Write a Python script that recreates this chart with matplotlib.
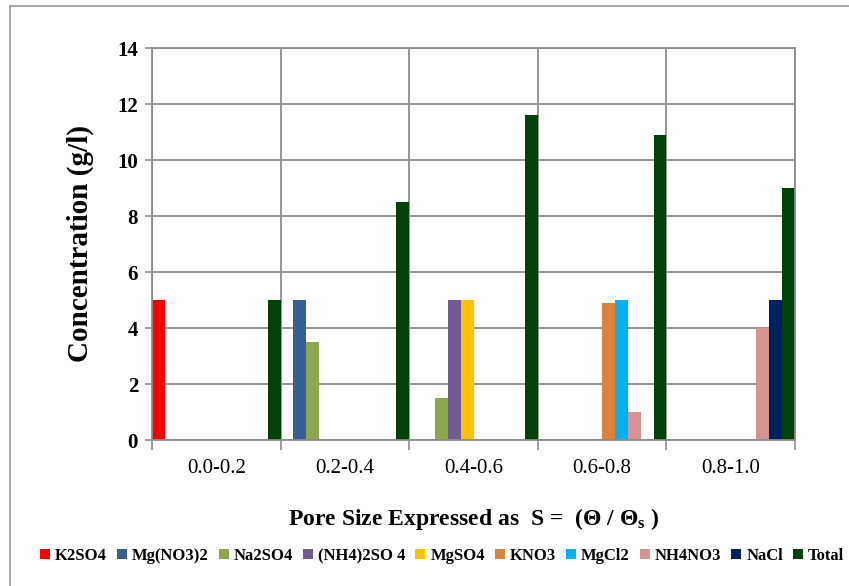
import numpy as np
import matplotlib
matplotlib.use('Agg')
import matplotlib.pyplot as plt
from matplotlib.patches import Rectangle

plt.rcParams['font.family'] = ['Liberation Serif', 'DejaVu Serif']
plt.rcParams['mathtext.fontset'] = 'custom'
plt.rcParams['mathtext.rm'] = 'Liberation Serif:bold'
plt.rcParams['mathtext.bf'] = 'Liberation Serif:bold'
plt.rcParams['mathtext.it'] = 'Liberation Serif:bold'

# data
categories = ['0.0-0.2', '0.2-0.4', '0.4-0.6', '0.6-0.8', '0.8-1.0']
series_names = ['K2SO4', 'Mg(NO3)2', 'Na2SO4', '(NH4)2SO 4', 'MgSO4',
                'KNO3', 'MgCl2', 'NH4NO3', 'NaCl', 'Total']
k2so4 = [5, 0, 0, 0, 0]
mgno32 = [0, 5, 0, 0, 0]
na2so4 = [0, 3.5, 1.5, 0, 0]
nh42so4 = [0, 0, 5, 0, 0]
mgso4 = [0, 0, 5, 0, 0]
kno3 = [0, 0, 0, 4.9, 0]
mgcl2 = [0, 0, 0, 5, 0]
nh4no3 = [0, 0, 0, 1, 4]
nacl = [0, 0, 0, 0, 5]
total = [5, 8.5, 11.6, 10.9, 9]
values = [k2so4, mgno32, na2so4, nh42so4, mgso4, kno3, mgcl2, nh4no3, nacl, total]
colors = ['#FF0000', '#376092', '#8EA64C', '#705A8F', '#FFC000',
          '#DC843C', '#00B0F0', '#D59494', '#002060', '#004209']

fig = plt.figure(figsize=(8.49, 5.86), dpi=100)
ax = fig.add_axes([152/849, 1-440/586, (795-152)/849, (440-48)/586])

grid_c = '#8c8c8c'
n = len(series_names)
w = 1.0 / n
x = np.arange(len(categories))
for i in range(n):
    ax.bar(x - 0.5 + w*(i+0.5), values[i], width=w, color=colors[i],
           label=series_names[i], linewidth=0)

ax.set_xlim(-0.5, len(categories)-0.5)
ax.set_ylim(0, 14)
ax.set_yticks(np.arange(0, 15, 2))
ax.set_xticks(x)
ax.set_xticklabels(categories, fontsize=15)
ax.set_xticks(np.arange(-0.5, len(categories)), minor=True)
ax.tick_params(axis='x', which='major', length=0, pad=14)
ax.tick_params(axis='x', which='minor', length=7, color=grid_c, width=1.2)
ax.tick_params(axis='y', length=5, color=grid_c, width=1.2, labelsize=15, pad=5)
for lab in ax.get_yticklabels():
    lab.set_fontweight('bold')
ax.grid(axis='y', color=grid_c, linewidth=1.3)
ax.grid(axis='x', which='minor', color=grid_c, linewidth=1.3)
ax.set_axisbelow(True)
for s in ax.spines.values():
    s.set_color(grid_c)
    s.set_linewidth(1.3)

ax.set_ylabel('Concentration (g/l)', fontsize=21, fontweight='bold')
ax.yaxis.set_label_coords(-0.09, 0.5)
ax.set_xlabel(r'Pore Size Expressed as  S =  ($\Theta$ / $\Theta_{s}$ )', fontsize=17, fontweight='bold')
ax.xaxis.set_label_coords(0.5, -0.168)

fig.legend(loc='center', bbox_to_anchor=(0.521, 1-556/586), ncol=n, frameon=False,
           prop={'size': 12, 'weight': 'bold'}, handlelength=0.6, handleheight=0.6,
           handletextpad=0.3, columnspacing=0.6, borderaxespad=0)

fig.patches.append(Rectangle((10/849, -0.1), 1.2, 1-6/586+0.1, transform=fig.transFigure,
                             fill=False, edgecolor='#a0a0a0', linewidth=1.3))

fig.savefig('out.png', dpi=100)
